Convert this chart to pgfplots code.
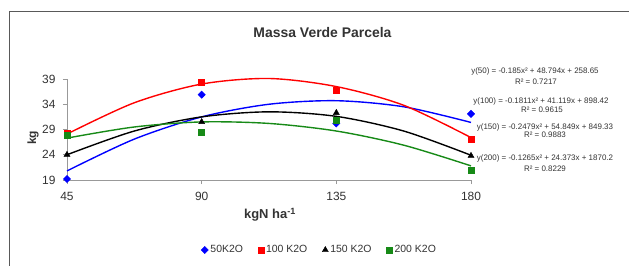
\documentclass[border=0pt]{standalone}
\usepackage{pgfplots}
\pgfplotsset{compat=1.18}
\usepackage{fontspec}
\setmainfont{Liberation Sans}
\definecolor{lgreen}{HTML}{178A17}
\definecolor{txt}{HTML}{333333}
\begin{document}
\begin{tikzpicture}
\useasboundingbox (-67bp,-86bp) rectangle (562bp,180bp);
\begin{axis}[
  at={(0,0)}, anchor=south west,
  scale only axis, width=404bp, height=101bp,
  xmin=45, xmax=180, ymin=19, ymax=39,
  axis lines=left, axis line style={draw=gray!80, line width=0.8pt, -},
  xtick={45,90,135,180}, ytick={19,24,29,34,39},
  tick align=outside, major tick length=4bp,
  tick style={gray!80, line width=0.8pt},
  clip=false,
  /pgf/number format/assume math mode=true,
  ticklabel style={font=\fontsize{12}{14}\selectfont, text=txt},
  yticklabel style={xshift=-4bp},
  xticklabel style={yshift=-5bp},
  legend style={draw=none, fill=none, at={(0.625,-0.693)}, anchor=center,
    font=\fontsize{10.5}{12}\selectfont, text=txt,
    /tikz/every even column/.append style={column sep=13bp}},
  legend columns=4,
]
% fitted curves
\addplot[blue, line width=1.4pt, smooth, forget plot] coordinates {(45,20.8)(67.5,27.1)(90,31.5)(112.5,34.0)(135,34.7)(157.5,33.5)(180,30.4)};
\addplot[red, line width=1.4pt, smooth, forget plot] coordinates {(45,28.1)(67.5,34.3)(90,38.0)(112.5,39.1)(135,37.5)(157.5,33.8)(180,27.4)};
\addplot[black, line width=1.4pt, smooth, forget plot] coordinates {(45,24.0)(67.5,28.7)(90,31.5)(112.5,32.5)(135,31.6)(157.5,28.7)(180,23.9)};
\addplot[lgreen, line width=1.4pt, smooth, forget plot] coordinates {(45,27.3)(67.5,29.5)(90,30.5)(112.5,30.2)(135,28.7)(157.5,25.9)(180,21.8)};
% observed points
\addplot[only marks, mark=square*, mark options={rotate=45}, mark size=2.6bp, blue] coordinates {(45,19.2)(90,35.9)(135,30.2)(180,32.1)};
\addlegendentry{50K2O}
\addplot[only marks, mark=square*, mark size=3bp, red] coordinates {(45,28.3)(90,38.4)(135,36.7)(180,27.0)};
\addlegendentry{100 K2O}
\addplot[only marks, mark=triangle*, mark size=3.5bp, black] coordinates {(45,24.0)(90,30.5)(135,32.3)(180,23.8)};
\addlegendentry{150 K2O}
\addplot[only marks, mark=square*, mark size=3bp, lgreen] coordinates {(45,27.8)(90,28.4)(135,30.9)(180,21.0)};
\addlegendentry{200 K2O}
\end{axis}
\draw[gray!70!black, line width=1.2pt] (-57.5bp,-90bp) -- (-57.5bp,168.5bp) -- (565bp,168.5bp);
\node[font=\bfseries\fontsize{14}{16}\selectfont, text=txt] at (255.5bp,147bp) {Massa Verde Parcela};
\node[font=\bfseries\fontsize{13}{15}\selectfont, text=txt] at (203bp,-35bp) {kgN ha\textsuperscript{-1}};
\node[font=\bfseries\fontsize{12}{14}\selectfont, text=txt, rotate=90] at (-34bp,42bp) {kg};
\begin{scope}[every node/.style={font=\fontsize{8}{9}\selectfont, text=txt, inner sep=0pt}]
\node at (468bp,108.3bp) {y(50) = -0.185x² + 48.794x + 258.65};
\node at (469bp,98.3bp) {R² = 0.7217};
\node at (474bp,78.3bp) {y(100) = -0.1811x² + 41.119x + 898.42};
\node at (475bp,70bp) {R² = 0.9615};
\node at (478bp,52.7bp) {y(150) = -0.2479x² + 54.849x + 849.33};
\node at (478bp,45bp) {R² = 0.9883};
\node at (478bp,21.7bp) {y(200) = -0.1265x² + 24.373x + 1870.2};
\node at (478bp,11.7bp) {R² = 0.8229};
\end{scope}
\end{tikzpicture}
\end{document}
